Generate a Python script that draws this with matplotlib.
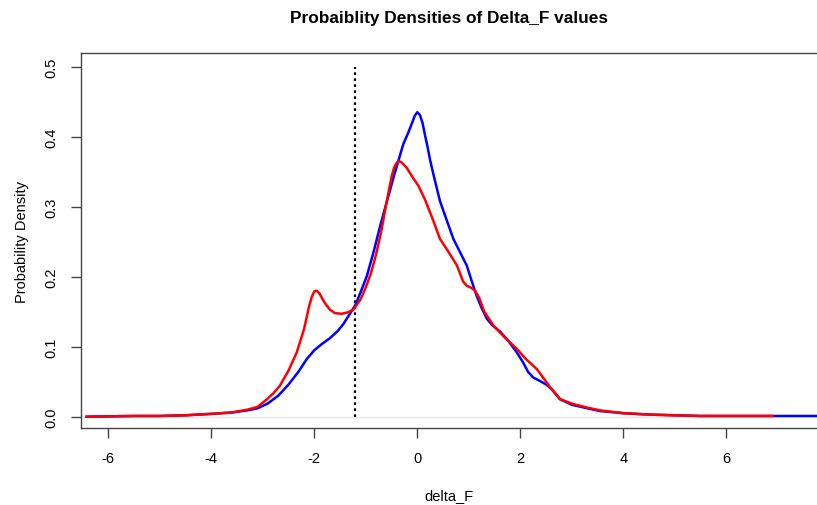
import matplotlib
matplotlib.use("Agg")
import matplotlib.pyplot as plt

plt.rcParams['font.family'] = ['Liberation Sans', 'DejaVu Sans']

title = "Probaiblity Densities of Delta_F values"
xlabel = "delta_F"
ylabel = "Probability Density"
xticks = [-6, -4, -2, 0, 2, 4, 6]
yticks = [0.0, 0.1, 0.2, 0.3, 0.4, 0.5]
ytick_labels = ["0.0", "0.1", "0.2", "0.3", "0.4", "0.5"]
threshold = -1.21

blue_x = [-6.42, -5.5, -5.0, -4.5, -4.0, -3.6, -3.3, -3.1, -2.9, -2.7, -2.5, -2.3,
          -2.15, -2.0, -1.85, -1.7, -1.55, -1.44, -1.3, -1.2, -1.1, -0.98, -0.85,
          -0.72, -0.6, -0.45, -0.35, -0.27, -0.18, -0.1, -0.05, 0.0, 0.05, 0.1,
          0.15, 0.2, 0.25, 0.3, 0.35, 0.44, 0.55, 0.70, 0.85, 0.96, 1.05, 1.15,
          1.25, 1.35, 1.45, 1.6, 1.75, 1.93, 2.05, 2.15, 2.25, 2.38, 2.5, 2.6,
          2.77, 3.0, 3.3, 3.55, 4.0, 4.5, 5.0, 5.5, 6.0, 7.0, 7.8]
blue_y = [0.000, 0.001, 0.001, 0.002, 0.004, 0.006, 0.009, 0.012, 0.019, 0.030,
          0.046, 0.065, 0.082, 0.095, 0.104, 0.112, 0.122, 0.132, 0.148, 0.160,
          0.178, 0.201, 0.235, 0.273, 0.305, 0.345, 0.370, 0.390, 0.405, 0.420,
          0.430, 0.435, 0.431, 0.420, 0.402, 0.385, 0.366, 0.350, 0.335, 0.308,
          0.285, 0.254, 0.232, 0.216, 0.195, 0.173, 0.155, 0.140, 0.131, 0.122,
          0.110, 0.092, 0.078, 0.064, 0.056, 0.051, 0.046, 0.040, 0.025, 0.017,
          0.012, 0.008, 0.005, 0.003, 0.002, 0.001, 0.001, 0.001, 0.001]

red_x = [-6.42, -5.5, -5.0, -4.5, -4.0, -3.6, -3.3, -3.1, -2.92, -2.8, -2.67, -2.5,
         -2.34, -2.2, -2.1, -2.05, -2.0, -1.95, -1.9, -1.8, -1.7, -1.6, -1.47,
         -1.35, -1.24, -1.1, -1.0, -0.9, -0.8, -0.7, -0.6, -0.5, -0.45, -0.4,
         -0.35, -0.3, -0.2, -0.1, 0.02, 0.15, 0.3, 0.44, 0.6, 0.77, 0.89, 0.96,
         1.05, 1.12, 1.2, 1.3, 1.48, 1.7, 1.93, 2.1, 2.32, 2.45, 2.58, 2.77, 3.03,
         3.3, 3.55, 4.0, 4.5, 5.0, 5.5, 6.0, 6.9]
red_y = [0.000, 0.001, 0.001, 0.002, 0.004, 0.006, 0.010, 0.014, 0.025, 0.033,
         0.044, 0.066, 0.092, 0.125, 0.158, 0.171, 0.179, 0.180, 0.176, 0.163,
         0.153, 0.148, 0.147, 0.149, 0.153, 0.168, 0.185, 0.205, 0.232, 0.265,
         0.305, 0.343, 0.356, 0.363, 0.365, 0.363, 0.355, 0.343, 0.330, 0.310,
         0.282, 0.254, 0.236, 0.216, 0.193, 0.187, 0.184, 0.180, 0.170, 0.150,
         0.130, 0.113, 0.097, 0.083, 0.068, 0.055, 0.042, 0.025, 0.018, 0.013,
         0.009, 0.005, 0.003, 0.002, 0.001, 0.001, 0.001]

fig = plt.figure(figsize=(8.17, 5.06), dpi=100)
ax = fig.add_axes([81/817, 1 - 429.3/506, 1 - 81/817, (429.3 - 54)/506])

ax.axhline(0, color='#e6e6e6', lw=1, zorder=1)
ax.plot(blue_x, blue_y, color='#0000ff', lw=1.8, zorder=3)
ax.plot(red_x, red_y, color='#ff0000', lw=1.8, zorder=4)
ax.vlines(threshold, 0, 0.5, colors='black', linestyles=(0, (1.2, 1.5)), lw=1.6, zorder=2)

ax.set_xlim(-6.53, 7.76)
ax.set_ylim(-0.0166, 0.5196)

ax.set_xticks(xticks)
ax.set_xticklabels([str(t) for t in xticks])
ax.set_yticks(yticks)
ax.set_yticklabels(ytick_labels, rotation=90, va='center')

for s in ['left', 'top', 'bottom']:
    ax.spines[s].set_color('#444444')
    ax.spines[s].set_linewidth(1.0)
ax.spines['right'].set_visible(False)

ax.tick_params(axis='both', direction='out', length=7, width=1, color='#444444',
               labelsize=10.5, labelcolor='black')
ax.tick_params(axis='x', pad=9)
ax.tick_params(axis='y', pad=9)

ax.set_xlabel(xlabel, fontsize=10.5, labelpad=17)
ax.set_ylabel(ylabel, fontsize=10.5, labelpad=11)
fig.text((81 + 817) / 2 / 817, 1 - 18/506, title, ha='center', va='center',
         fontsize=12.4, fontweight='bold')

fig.savefig("out.png", dpi=100)
